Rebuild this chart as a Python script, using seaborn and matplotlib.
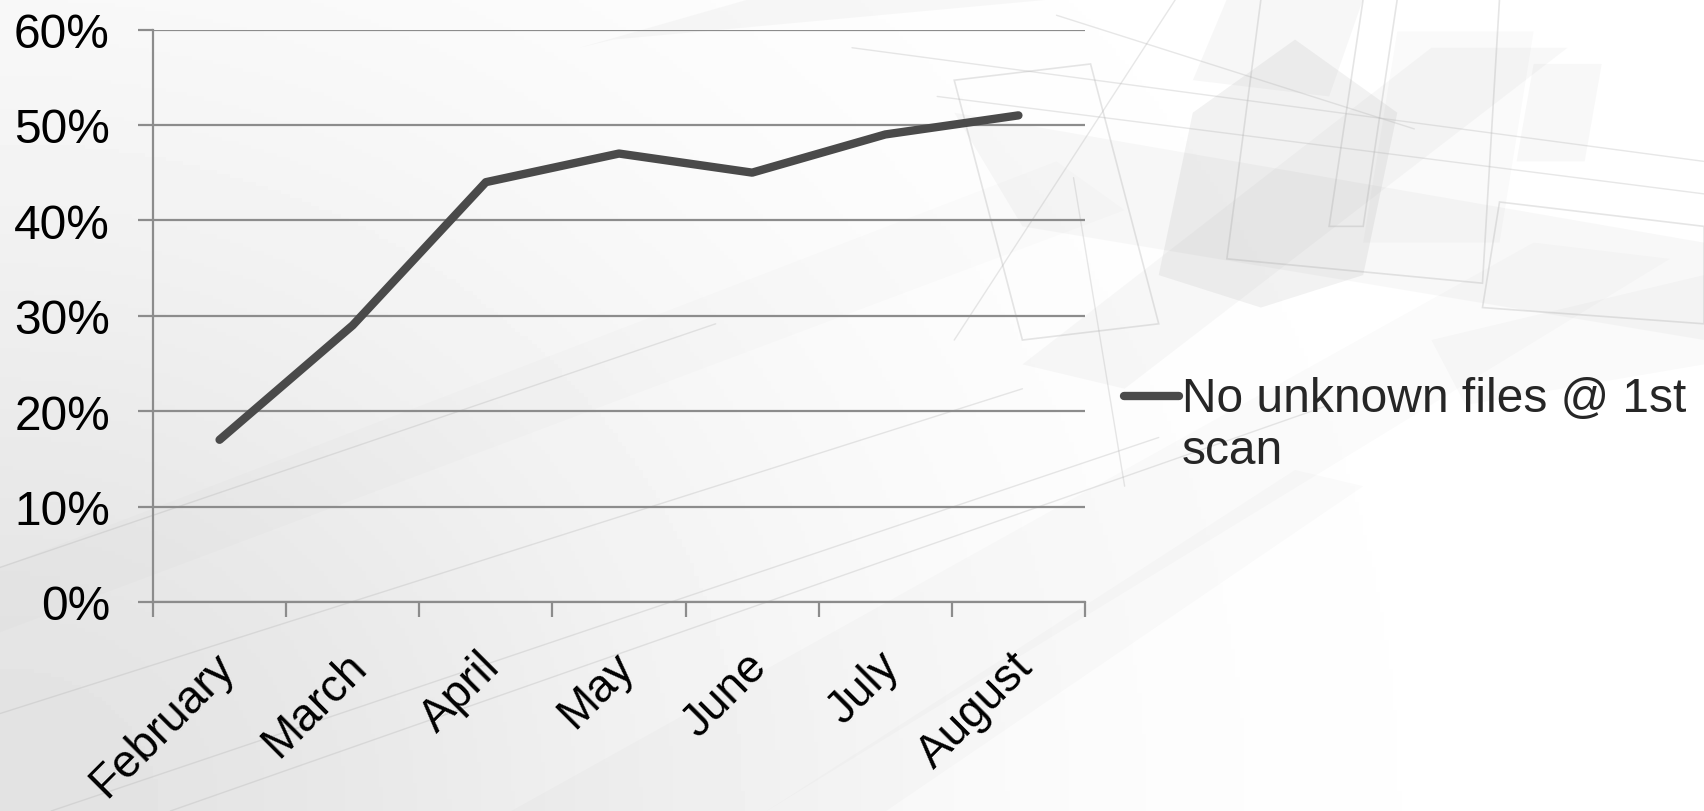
import numpy as np
import pandas as pd
import matplotlib
matplotlib.use("Agg")
import matplotlib.pyplot as plt
import matplotlib.transforms as mtransforms
from matplotlib.patches import Polygon
from matplotlib.legend_handler import HandlerLine2D
import seaborn as sns

# --- data -------------------------------------------------------------
months = ["February", "March", "April", "May", "June", "July", "August"]
share_no_unknown = [17, 29, 44, 47, 45, 49, 51]   # percent
series_label = "No unknown files @ 1st\nscan"
y_ticks = [0, 10, 20, 30, 40, 50, 60]

sns.set_theme(style="white")
plt.rcParams["font.family"] = ["Liberation Sans", "DejaVu Sans"]

W, H, DPI = 1704, 812, 100
FS = 34.5
FS_X = 33
fig = plt.figure(figsize=(W / DPI, H / DPI), dpi=DPI)
fig.patch.set_facecolor("white")

# --- pale abstract backdrop -------------------------------------------
bg = fig.add_axes([0, 0, 1, 1], zorder=0)
bg.set_xlim(0, 1)
bg.set_ylim(0, 1)
bg.axis("off")
gx, gy = np.meshgrid(np.linspace(0, 1, 400), np.linspace(0, 1, 200))
haze = np.exp(-((gx / 0.45) ** 2 + (gy / 0.85) ** 2))
shade = 1.0 - 0.11 * haze
bg.imshow(shade, extent=[0, 1, 0, 1], origin="lower", cmap="gray",
          vmin=0, vmax=1, aspect="auto", zorder=0)

fill_kw = dict(closed=True, linewidth=0, zorder=1)
shapes = [
    # broad diagonal sheets across the lower half
    ([(0.00, 0.22), (0.00, 0.30), (0.62, 0.80), (0.66, 0.74)], 0.025),
    ([(0.30, 0.00), (0.45, 0.00), (0.98, 0.68), (0.90, 0.70)], 0.03),
    ([(0.45, 0.00), (0.52, 0.00), (0.80, 0.40), (0.76, 0.42)], 0.03),
    ([(0.34, 0.94), (0.44, 1.00), (0.62, 1.00), (0.36, 0.95)], 0.05),
    # cluster of panels at the upper right
    ([(0.56, 0.86), (1.00, 0.70), (1.00, 0.58), (0.60, 0.72)], 0.05),
    ([(0.68, 0.66), (0.70, 0.86), (0.76, 0.95), (0.82, 0.86), (0.80, 0.66), (0.74, 0.62)], 0.10),
    ([(0.60, 0.55), (0.84, 0.94), (0.92, 0.94), (0.66, 0.52)], 0.05),
    ([(0.70, 0.90), (0.72, 1.00), (0.80, 1.00), (0.78, 0.88)], 0.06),
    ([(0.80, 0.70), (0.82, 0.96), (0.90, 0.96), (0.88, 0.70)], 0.04),
    ([(0.84, 0.58), (1.00, 0.66), (1.00, 0.55), (0.86, 0.50)], 0.04),
    ([(0.89, 0.80), (0.90, 0.92), (0.94, 0.92), (0.93, 0.80)], 0.05),
]
for pts, a in shapes:
    bg.add_patch(Polygon(pts, facecolor="#808080", alpha=a, **fill_kw))

outline_kw = dict(closed=True, fill=False, linewidth=1.2, zorder=1)
outlines = [
    [(0.56, 0.90), (0.64, 0.92), (0.68, 0.60), (0.60, 0.58)],
    [(0.72, 0.68), (0.74, 1.00), (0.88, 1.00), (0.87, 0.65)],
    [(0.78, 0.72), (0.80, 1.00), (0.82, 1.00), (0.80, 0.72)],
    [(0.87, 0.62), (0.88, 0.75), (1.00, 0.72), (1.00, 0.60)],
]
for pts in outlines:
    bg.add_patch(Polygon(pts, edgecolor="#9a9a9a", alpha=0.25, **outline_kw))

for x0, y0, x1, y1 in [(0.00, 0.12, 0.60, 0.52), (0.03, 0.00, 0.68, 0.46),
                       (0.10, 0.00, 0.78, 0.50), (0.00, 0.30, 0.42, 0.60),
                       (0.50, 0.94, 1.00, 0.80), (0.55, 0.88, 1.00, 0.76),
                       (0.62, 0.98, 0.83, 0.84), (0.63, 0.78, 0.66, 0.40),
                       (0.69, 1.00, 0.56, 0.58)]:
    bg.plot([x0, x1], [y0, y1], color="#b0b0b0", lw=1.0, alpha=0.3, zorder=1)


class FirstLineHandler(HandlerLine2D):
    """Place the legend line beside the first line of a wrapped label."""

    def __init__(self, dy, **kw):
        super().__init__(**kw)
        self.dy = dy

    def create_artists(self, legend, orig_handle, xdescent, ydescent,
                       width, height, fontsize, trans):
        arts = super().create_artists(legend, orig_handle, xdescent, ydescent,
                                      width, height, fontsize, trans)
        for a in arts:
            a.set_ydata(np.asarray(a.get_ydata(), dtype=float) + self.dy)
        return arts


# --- chart ------------------------------------------------------------
ax = fig.add_axes([153 / W, 1 - 603 / H, (1085 - 153) / W, (603 - 30.5) / H], zorder=2)
ax.set_facecolor("none")

df = pd.DataFrame({"pos": np.arange(len(months)), "value": share_no_unknown})
sns.lineplot(data=df, x="pos", y="value", ax=ax, color="#4a4a4a",
             linewidth=6, sort=False, label=series_label,
             solid_capstyle="round", solid_joinstyle="round")

ax.set_xlim(-0.5, len(months) - 0.5)
ax.set_ylim(0, 60)
ax.set_xlabel("")
ax.set_ylabel("")

grid_col = "#8c8c8c"
ax.set_yticks(y_ticks)
ax.set_yticklabels([f"{v}%" for v in y_ticks], fontsize=FS, color="black")
ax.yaxis.grid(True, color=grid_col, linewidth=1.6)
ax.set_axisbelow(True)

# category boundaries carry the tick marks, names sit between them
ax.set_xticks(np.arange(-0.5, len(months), 1.0))
ax.set_xticklabels([])
ax.set_xticks(np.arange(len(months)), minor=True)
ax.set_xticklabels(months, minor=True, fontsize=FS_X, color="black",
                   rotation=45, ha="right", va="top", rotation_mode="anchor")
ax.tick_params(axis="x", which="minor", length=0, pad=30)
ax.tick_params(axis="x", which="major", length=11, width=1.6, color=grid_col,
               direction="out", bottom=True)
ax.tick_params(axis="y", length=11, width=1.6, color=grid_col, pad=20,
               direction="out", left=True)
shift = mtransforms.ScaledTranslation(-8 / DPI, 0, fig.dpi_scale_trans)
for lbl in ax.get_xticklabels(minor=True):
    lbl.set_transform(lbl.get_transform() + shift)

for side in ["top", "right"]:
    ax.spines[side].set_visible(False)
for side in ["left", "bottom"]:
    ax.spines[side].set_color(grid_col)
    ax.spines[side].set_linewidth(1.6)

handle = ax.get_lines()[0]
leg = ax.legend(handles=[handle], labels=[series_label],
                loc="upper left", bbox_to_anchor=(1124 / W, 1 - 377 / H),
                bbox_transform=fig.transFigure, frameon=False, fontsize=FS,
                handlelength=1.15, handletextpad=0.05, borderaxespad=0,
                borderpad=0,
                handler_map={handle: FirstLineHandler(dy=0.6 * FS)})
for line in leg.get_lines():
    line.set_solid_capstyle("round")

fig.savefig("out.png", dpi=DPI, facecolor=fig.get_facecolor())
